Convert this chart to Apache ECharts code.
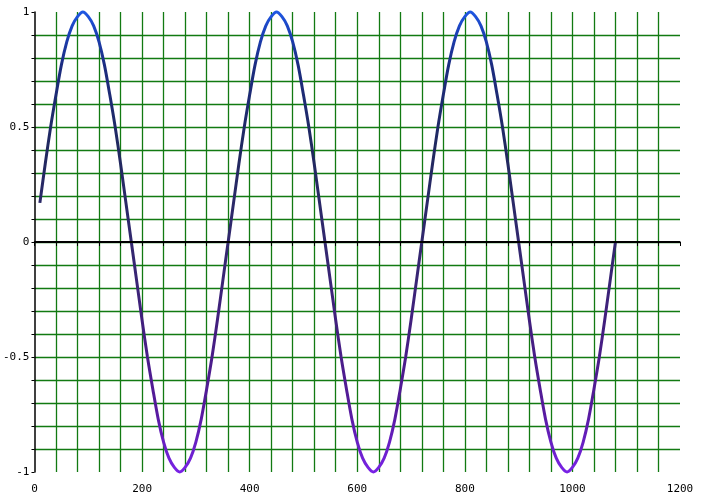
<!DOCTYPE html>
<html>
<head>
<meta charset="utf-8">
<script src="https://cdn.jsdelivr.net/npm/echarts@6/dist/echarts.min.js"></script>
<style>html,body{margin:0;padding:0;background:#fff}#c{width:701px;height:501px}</style>
</head>
<body>
<div id="c"></div>
<script>
// x positions (degrees)
var xs = [
  10,20,30,40,50,60,70,80,90,100,110,120,130,140,150,160,170,180,190,200,210,220,230,240,250,260,270,280,290,300,310,320,330,340,350,360,
  370,380,390,400,410,420,430,440,450,460,470,480,490,500,510,520,530,540,550,560,570,580,590,600,610,620,630,640,650,660,670,680,690,700,710,720,
  730,740,750,760,770,780,790,800,810,820,830,840,850,860,870,880,890,900,910,920,930,940,950,960,970,980,990,1000,1010,1020,1030,1040,1050,1060,1070,1080
];
// values
var ys = [
  0.17,0.34,0.50,0.64,0.77,0.87,0.94,0.98,1.00,0.98,0.94,0.87,0.77,0.64,0.50,0.34,0.17,0.00,-0.17,-0.34,-0.50,-0.64,-0.77,-0.87,-0.94,-0.98,-1.00,-0.98,-0.94,-0.87,-0.77,-0.64,-0.50,-0.34,-0.17,0.00,
  0.17,0.34,0.50,0.64,0.77,0.87,0.94,0.98,1.00,0.98,0.94,0.87,0.77,0.64,0.50,0.34,0.17,0.00,-0.17,-0.34,-0.50,-0.64,-0.77,-0.87,-0.94,-0.98,-1.00,-0.98,-0.94,-0.87,-0.77,-0.64,-0.50,-0.34,-0.17,0.00,
  0.17,0.34,0.50,0.64,0.77,0.87,0.94,0.98,1.00,0.98,0.94,0.87,0.77,0.64,0.50,0.34,0.17,0.00,-0.17,-0.34,-0.50,-0.64,-0.77,-0.87,-0.94,-0.98,-1.00,-0.98,-0.94,-0.87,-0.77,-0.64,-0.50,-0.34,-0.17,0.00
];
var xLabels = [0, 200, 400, 600, 800, 1000, 1200];
var yLabels = [-1, -0.5, 0, 0.5, 1];

var data = xs.map(function (x, i) { return [x, ys[i]]; });
function isLabel(list, v) {
  for (var i = 0; i < list.length; i++) if (Math.abs(list[i] - v) < 1e-6) return true;
  return false;
}
var font = '"DejaVu Sans Mono", monospace';
var grid = '#127a12';

var chart = echarts.init(document.getElementById('c'), null, { renderer: 'canvas' });
chart.setOption({
  animation: false,
  backgroundColor: '#ffffff',
  grid: { left: 33, right: 21, top: 12, bottom: 29, containLabel: false },
  xAxis: {
    type: 'value', min: 0, max: 1200, interval: 40,
    axisLine: { show: true, lineStyle: { color: '#000', width: 1.5 } },
    axisTick: { show: true, length: 4, lineStyle: { color: '#000' } },
    axisLabel: {
      margin: 12, color: '#000', fontFamily: font, fontSize: 11,
      formatter: function (v) { return isLabel(xLabels, v) ? String(Math.round(v)) : ''; }
    },
    splitLine: { show: true, showMinLine: false, showMaxLine: false, lineStyle: { color: grid, width: 1.3 } }
  },
  yAxis: {
    type: 'value', min: -1, max: 1, interval: 0.1,
    axisLine: { show: true, lineStyle: { color: '#000', width: 1.5 } },
    axisTick: { show: true, length: 3, lineStyle: { color: '#000' } },
    axisLabel: {
      margin: 5, color: '#000', fontFamily: font, fontSize: 11, padding: [0, 0, 6, 0],
      formatter: function (v) {
        if (!isLabel(yLabels, v)) return '';
        var r = Math.round(v * 2) / 2;
        return String(r);
      }
    },
    splitLine: { show: true, showMinLine: false, showMaxLine: false, lineStyle: { color: grid, width: 1.3 } }
  },
  series: [{
    type: 'line',
    data: data,
    showSymbol: false,
    smooth: 0.3,
    clip: false,
    lineStyle: {
      width: 3,
      color: new echarts.graphic.LinearGradient(0, 0, 0, 1, [
        { offset: 0, color: '#1f5ae8' },
        { offset: 0.04, color: '#1c44c0' },
        { offset: 0.12, color: '#1c2c80' },
        { offset: 0.3, color: '#20285e' },
        { offset: 0.5, color: '#32286e' },
        { offset: 0.7, color: '#441e80' },
        { offset: 0.86, color: '#561a9c' },
        { offset: 0.95, color: '#6c20cc' },
        { offset: 1, color: '#7a22e8' }
      ])
    },
    markLine: {
      silent: true, symbol: 'none', label: { show: false },
      lineStyle: { color: '#000', width: 2, type: 'solid' },
      data: [{ yAxis: 0 }]
    },
    z: 3
  }]
});
</script>
</body>
</html>
